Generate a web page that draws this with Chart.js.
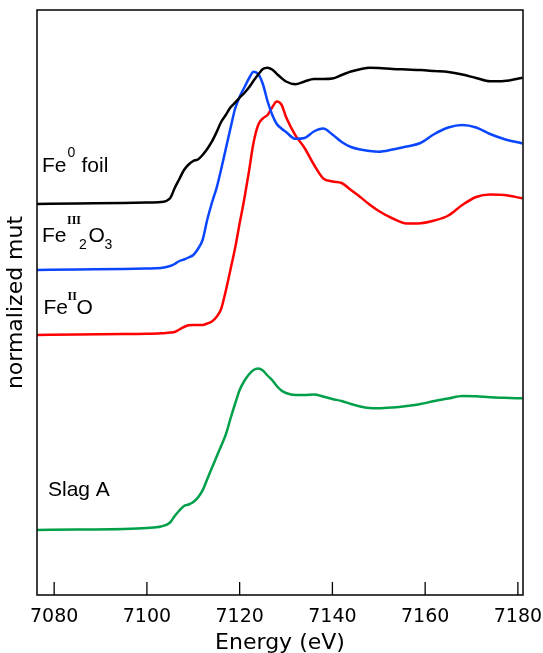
<!DOCTYPE html>
<html>
<head>
<meta charset="utf-8">
<script src="https://cdn.jsdelivr.net/npm/chart.js@4.4.1/dist/chart.umd.min.js"></script>
<style>
  html, body { margin: 0; padding: 0; background: #fff; }
  #wrap { width: 543px; height: 653px; }
</style>
</head>
<body>
<div id="wrap"><canvas id="xanes" width="543" height="653"></canvas></div>
<script>
// Fe K-edge XANES, spectra stacked with offsets
const energy = [7076, 7085, 7095, 7100, 7103, 7105, 7106, 7107, 7108, 7109, 7110,
  7111, 7112, 7113, 7114, 7115, 7116, 7117, 7118, 7119, 7120, 7121, 7122, 7123,
  7124, 7125, 7126, 7127, 7128, 7129, 7130, 7132, 7134, 7136, 7138, 7140, 7142,
  7144, 7146, 7148, 7150, 7153, 7156, 7159, 7162, 7165, 7168, 7171, 7174, 7177, 7181];

const feFoil = [3.91, 3.915, 3.92, 3.925, 3.93, 3.967, 4.07, 4.16, 4.25, 4.305, 4.34,
  4.355, 4.40, 4.46, 4.533, 4.626, 4.73, 4.80, 4.874, 4.923, 4.973, 5.02, 5.075, 5.142,
  5.204, 5.26, 5.273, 5.255, 5.212, 5.17, 5.135, 5.107, 5.135, 5.16, 5.16, 5.165, 5.20,
  5.235, 5.257, 5.272, 5.27, 5.26, 5.255, 5.25, 5.24, 5.23, 5.205, 5.17, 5.137, 5.14, 5.173];

const fe2o3 = [3.25, 3.255, 3.26, 3.265, 3.27, 3.29, 3.31, 3.34, 3.355, 3.375, 3.40,
  3.46, 3.55, 3.75, 3.92, 4.067, 4.255, 4.46, 4.663, 4.86, 4.983, 5.075, 5.165, 5.233,
  5.21, 5.11, 4.94, 4.805, 4.71, 4.665, 4.63, 4.562, 4.57, 4.635, 4.664, 4.605, 4.53,
  4.48, 4.455, 4.44, 4.433, 4.455, 4.485, 4.52, 4.61, 4.675, 4.70, 4.675, 4.61, 4.56, 4.515];

const feO = [2.60, 2.605, 2.61, 2.612, 2.617, 2.625, 2.63, 2.655, 2.68, 2.697, 2.70,
  2.70, 2.70, 2.715, 2.735, 2.78, 2.86, 3.04, 3.25, 3.465, 3.717, 3.96, 4.234, 4.524,
  4.70, 4.767, 4.80, 4.875, 4.935, 4.905, 4.78, 4.598, 4.47, 4.305, 4.167, 4.135, 4.12,
  4.05, 3.98, 3.905, 3.84, 3.765, 3.715, 3.718, 3.745, 3.795, 3.90, 3.98, 4.005, 4.00, 3.967];

const slagA = [0.65, 0.655, 0.66, 0.67, 0.685, 0.725, 0.79, 0.845, 0.89, 0.905, 0.93,
  0.975, 1.046, 1.157, 1.27, 1.38, 1.49, 1.603, 1.76, 1.91, 2.05, 2.14, 2.205, 2.25,
  2.265, 2.245, 2.195, 2.15, 2.09, 2.045, 2.02, 2.00, 2.00, 2.005, 1.985, 1.96, 1.94,
  1.91, 1.885, 1.87, 1.867, 1.875, 1.89, 1.91, 1.94, 1.965, 1.99, 1.987, 1.977, 1.972, 1.967];

const xTicks = [7080, 7100, 7120, 7140, 7160, 7180];

const toPoints = (ys) => energy.map((e, i) => ({ x: e, y: ys[i] }));

function series(label, ys, color) {
  return {
    label: label,
    data: toPoints(ys),
    borderColor: color,
    borderWidth: 2.5,
    pointRadius: 0,
    fill: false,
    cubicInterpolationMode: "monotone",
  };
}

// frame, inward ticks and the sample labels
const decorPlugin = {
  id: "decor",
  afterDraw(chart) {
    const { ctx, chartArea: a, scales } = chart;
    ctx.save();
    ctx.strokeStyle = "#000";
    ctx.lineWidth = 1.5;
    ctx.strokeRect(a.left, a.top, a.right - a.left, a.bottom - a.top);

    ctx.lineWidth = 1.3;
    scales.x.ticks.forEach((t) => {
      const px = scales.x.getPixelForValue(t.value);
      ctx.beginPath();
      ctx.moveTo(px, a.bottom);
      ctx.lineTo(px, a.bottom - 13);
      ctx.stroke();
    });

    ctx.fillStyle = "#000";
    ctx.textBaseline = "alphabetic";
    const main = "21px 'Liberation Sans', Arial, sans-serif";
    const small = "14px 'Liberation Sans', Arial, sans-serif";
    const roman = "bold 12px 'Liberation Serif', serif";

    ctx.font = main;
    ctx.fillText("Fe", 42, 172);
    ctx.font = small;
    ctx.fillText("0", 67.5, 157);
    ctx.font = main;
    ctx.fillText("foil", 81.5, 172);

    ctx.fillText("Fe", 42, 242);
    ctx.font = roman;
    ctx.fillText("III", 67, 224);
    ctx.font = small;
    ctx.fillText("2", 79, 248.5);
    ctx.font = main;
    ctx.fillText("O", 88.5, 242);
    ctx.font = small;
    ctx.fillText("3", 104.5, 248.5);

    ctx.font = main;
    ctx.fillText("Fe", 43.5, 313.5);
    ctx.font = roman;
    ctx.fillText("II", 67.5, 300);
    ctx.font = main;
    ctx.fillText("O", 76.5, 313.5);

    ctx.fillText("Slag A", 48, 496);
    ctx.restore();
  },
};

const ctx = document.getElementById("xanes").getContext("2d");
new Chart(ctx, {
  type: "line",
  data: {
    datasets: [
      series("Fe0 foil", feFoil, "#000000"),
      series("FeIII2O3", fe2o3, "#0a46ff"),
      series("FeIIO", feO, "#ff0000"),
      series("Slag A", slagA, "#00a04a"),
    ],
  },
  options: {
    responsive: false,
    animation: false,
    devicePixelRatio: 1,
    layout: { padding: { top: 10, right: 20, bottom: 0, left: 0 } },
    plugins: { legend: { display: false }, tooltip: { enabled: false } },
    scales: {
      x: {
        type: "linear",
        min: 7076.3,
        max: 7181.1,
        afterBuildTicks: (scale) => {
          scale.ticks = xTicks.map((v) => ({ value: v }));
        },
        afterFit: (scale) => {
          scale.height = 58;
          // let the end labels run past the plot box
          scale.paddingLeft = 0;
          scale.paddingRight = 0;
        },
        grid: { display: false, drawTicks: false },
        border: { display: false },
        ticks: {
          padding: 11,
          color: "#000",
          font: { family: "'DejaVu Sans', sans-serif", size: 19 },
          callback: (v) => String(v),
        },
        title: {
          display: true,
          text: "Energy (eV)",
          color: "#000",
          font: { family: "'DejaVu Sans', sans-serif", size: 22, lineHeight: 1 },
          padding: { top: 0, bottom: -1 },
        },
      },
      y: {
        min: 0,
        max: 5.85,
        afterFit: (scale) => {
          scale.width = 37;
        },
        grid: { display: false, drawTicks: false },
        border: { display: false },
        ticks: { display: false },
        title: {
          display: true,
          text: "normalized mut",
          color: "#000",
          font: { family: "'DejaVu Sans', sans-serif", size: 22, lineHeight: 1 },
          padding: { top: 5, bottom: 0 },
        },
      },
    },
  },
  plugins: [decorPlugin],
});
</script>
</body>
</html>
